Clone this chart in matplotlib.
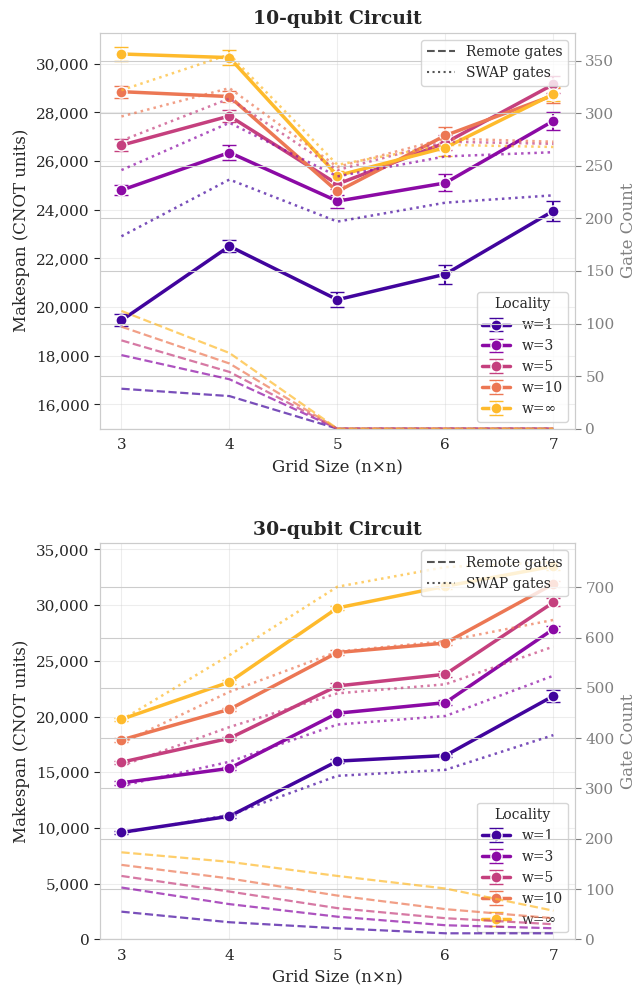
import numpy as np
import matplotlib
matplotlib.use("Agg")
import matplotlib.pyplot as plt
import seaborn as sns
from matplotlib.lines import Line2D
from matplotlib.ticker import StrMethodFormatter

grid_sizes = [3, 4, 5, 6, 7]
localities = ["w=1", "w=3", "w=5", "w=10", "w=∞"]

# 10-qubit circuit
makespan_10 = [
    [19450, 22500, 20300, 21350, 23950],
    [24800, 26350, 24350, 25100, 27650],
    [26650, 27850, 25050, 26750, 29150],
    [28850, 28650, 24750, 27050, 28700],
    [30400, 30250, 25400, 26550, 28750],
]
makespan_err_10 = [
    [250, 250, 320, 390, 400],
    [210, 290, 270, 350, 355],
    [250, 245, 200, 300, 340],
    [240, 240, 250, 360, 300],
    [270, 295, 200, 340, 300],
]
swap_10 = [
    [183, 237, 197, 215, 222],
    [246, 291, 240, 259, 263],
    [274, 314, 246, 273, 271],
    [297, 324, 249, 276, 273],
    [322, 356, 251, 270, 268],
]
remote_10 = [
    [38, 31, 0, 0, 0],
    [70, 47, 0, 0, 0],
    [84, 54, 0, 0, 0],
    [97, 62, 0, 0, 0],
    [112, 72, 0, 0, 0],
]

# 30-qubit circuit
makespan_30 = [
    [9600, 11050, 16000, 16500, 21850],
    [14050, 15350, 20300, 21250, 27850],
    [15900, 18050, 22750, 23800, 30250],
    [17900, 20650, 25750, 26600, 31900],
    [19750, 23100, 29750, 31700, 33500],
]
makespan_err_30 = [
    [150, 150, 150, 150, 500],
    [150, 150, 200, 200, 300],
    [150, 150, 250, 250, 350],
    [150, 150, 200, 200, 300],
    [150, 150, 200, 250, 300],
]
swap_30 = [
    [211, 247, 325, 337, 406],
    [305, 353, 427, 444, 524],
    [345, 422, 489, 507, 582],
    [390, 492, 572, 593, 635],
    [436, 565, 701, 740, 750],
]
remote_30 = [
    [55, 34, 22, 12, 12],
    [103, 70, 45, 28, 22],
    [126, 95, 62, 42, 30],
    [148, 121, 87, 60, 42],
    [173, 154, 126, 101, 57],
]

sns.set_style("whitegrid")
plt.rcParams["font.family"] = ["DejaVu Serif"]
colors = plt.cm.plasma(np.linspace(0.1, 0.85, len(localities)))
GRAY = "#808080"


def draw_panel(ax, title, makespan, errs, remote, swap, left_lim, right_lim):
    ax2 = ax.twinx()
    for i, lab in enumerate(localities):
        ax.errorbar(grid_sizes, makespan[i], yerr=errs[i], color=colors[i],
                    lw=2.5, marker="o", ms=8, mec="white", mew=1,
                    capsize=5, elinewidth=1.5, capthick=1.5, label=lab, zorder=3)
        ax2.plot(grid_sizes, remote[i], ls="--", color=colors[i], lw=1.6, alpha=0.7)
        ax2.plot(grid_sizes, swap[i], ls=":", color=colors[i], lw=1.8, alpha=0.7)

    ax.set_title(title, fontsize=13.5, fontweight="bold")
    ax.set_xlabel("Grid Size (n×n)", fontsize=12)
    ax.set_ylabel("Makespan (CNOT units)", fontsize=12)
    ax2.set_ylabel("Gate Count", fontsize=12, color=GRAY)
    ax.set_xticks(grid_sizes)
    ax.set_xlim(2.8, 7.2)
    ax.set_ylim(*left_lim)
    ax2.set_ylim(*right_lim)
    ax.yaxis.set_major_formatter(StrMethodFormatter("{x:,.0f}"))
    ax.tick_params(axis="both", labelsize=11)
    ax.tick_params(axis="y", left=True, length=4, color="#262626")
    ax2.tick_params(axis="y", right=True, length=4, labelsize=11,
                    colors=GRAY)
    ax.grid(True, alpha=0.35)
    ax2.grid(True, axis="y", color=".8")

    ax.legend(title="Locality", loc="lower right", fontsize=10,
              title_fontsize=10)
    style_handles = [Line2D([0], [0], color="#555555", ls="--", lw=1.5),
                     Line2D([0], [0], color="#555555", ls=":", lw=1.5)]
    ax2.legend(style_handles, ["Remote gates", "SWAP gates"],
               loc="upper right", fontsize=10)
    return ax2


fig, axes = plt.subplots(2, 1, figsize=(6.36, 9.94), dpi=100)
fig.subplots_adjust(left=0.157, right=0.904, top=0.967, bottom=0.055,
                    hspace=0.29)

draw_panel(axes[0], "10-qubit Circuit", makespan_10, makespan_err_10,
           remote_10, swap_10, (15000, 31270), (0, 376.6))
draw_panel(axes[1], "30-qubit Circuit", makespan_30, makespan_err_30,
           remote_30, swap_30, (0, 35540), (0, 787))

plt.savefig("out.png", dpi=100)
